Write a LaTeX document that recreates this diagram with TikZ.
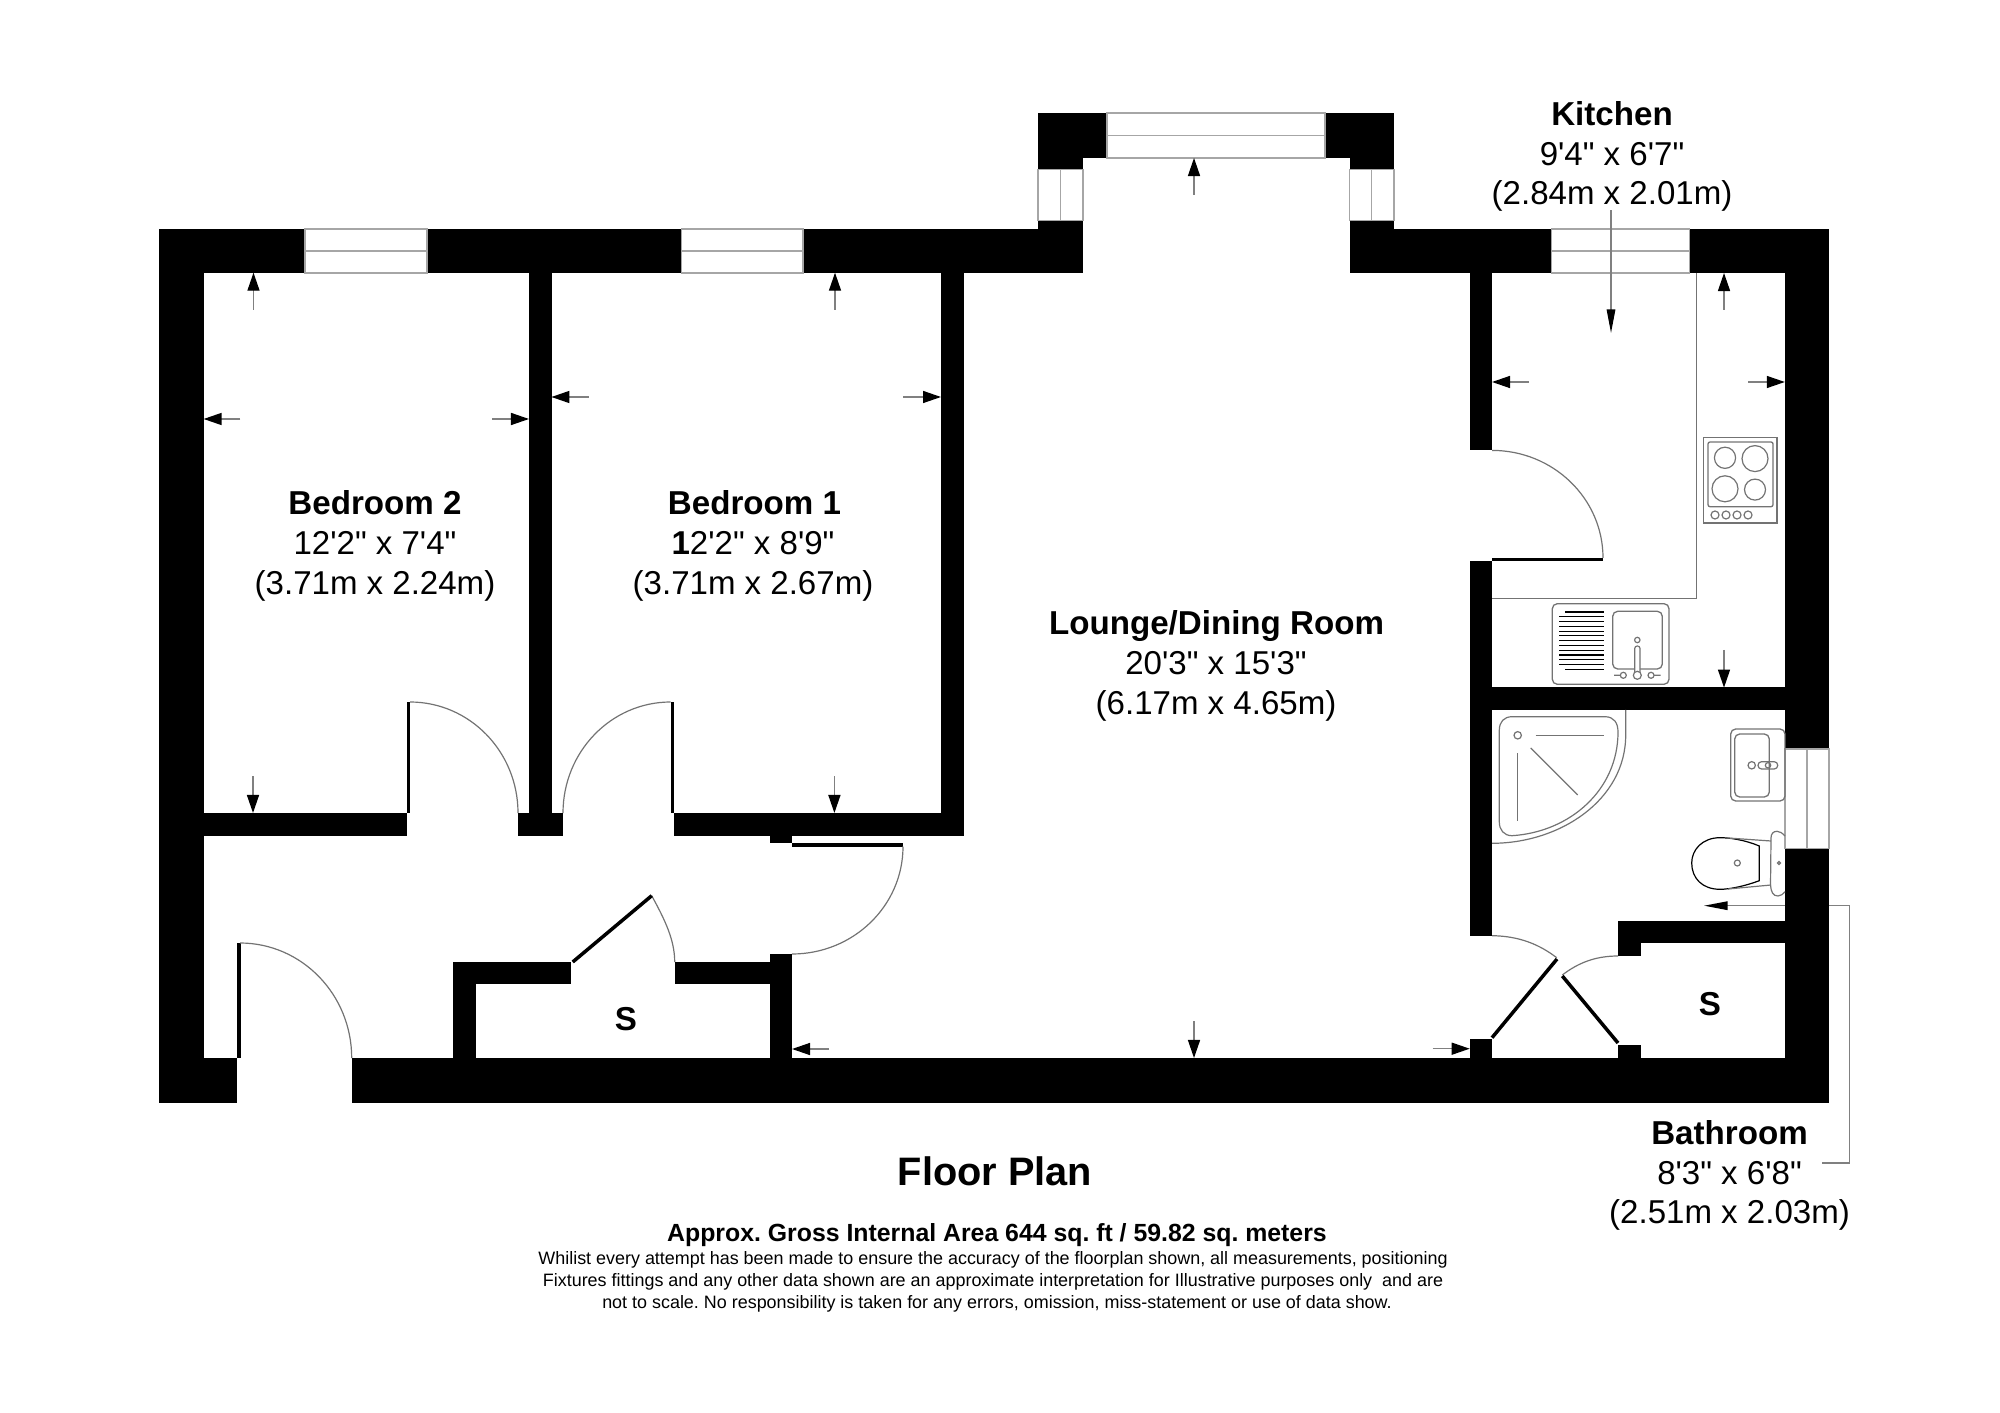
\documentclass[tikz,border=0pt]{standalone}
\usepackage{fontspec}
\usepackage{xcolor}
\usetikzlibrary{arrows.meta}
\newfontfamily\plansans{Liberation Sans}

\definecolor{fittingline}{gray}{0.45}

\tikzset{
    wall/.style={fill=black},
    leaf/.style={line width=0.035cm, black},
    swing/.style={draw=fittingline, line width=0.012cm},
    fitting/.style={draw=fittingline, line width=0.013cm, rounded corners=0.05cm},
    windowbox/.style={draw=gray!70, line width=0.012cm, fill=white},
    dimarrow/.style={draw=gray, line width=0.014cm, -{Triangle[length=0.18cm, width=0.12cm, black]}},
    longarrow/.style={draw=gray, line width=0.014cm, -{Triangle[length=0.235cm, width=0.085cm, black]}},
    roomtitle/.style={font=\plansans\bfseries\fontsize{9.42}{11}\selectfont, anchor=base, inner sep=0pt},
    roomsize/.style={font=\plansans\fontsize{9.4}{11}\selectfont, anchor=base, inner sep=0pt},
    smallprint/.style={font=\plansans\fontsize{5.1}{6}\selectfont, anchor=base, inner sep=0pt}
}

\begin{document}
\frenchspacing
\begin{tikzpicture}[x=0.01cm, y=-0.01cm]
    \useasboundingbox (0,0) rectangle (2000,1413);

    % walls
    \foreach \xa/\ya/\xb/\yb in {
        158.5/229/305/273, 427/229/681.5/273, 803/229/1083/273, 1038/220.6/1083/273,
        158.5/229/203.5/1102.5, 158.5/1058/236.5/1102.5, 352/1058/1829/1102.5,
        529/273/551.5/813, 941/273/963.5/836,
        203.5/813/407/836, 518/813/563/836, 673.7/813/963.5/836, 770/836/792/843,
        770/954/792/1058, 453/962/476/1058, 453/962/571/984, 675/962/770/984,
        1038/113/1107/158, 1038/158/1083/169.6, 1325/113/1394/158, 1349.6/158/1394/169.6,
        1349.6/220.6/1394/273, 1349.6/229/1551.6/273, 1689.7/229/1829/273,
        1784.8/229/1829/749, 1784.8/848.3/1829/1102.5,
        1469.7/273/1492/450.4, 1469.7/561.4/1492/935.7, 1469.7/687.3/1785/710.2,
        1618/920.7/1785/943.3, 1618/920.7/1640.7/956, 1618/1045/1640.7/1058, 1469.7/1039/1492/1058,
        407/702/410.4/813, 670.6/702/673.7/813, 236.5/943/240.5/1058, 792/843/903/846.5, 1492/558/1603/561.4}
        \fill[wall] (\xa,\ya) rectangle (\xb,\yb);

    % windows
    \foreach \xa/\xb/\ya/\yb in {305/427/229/273, 681.5/803/229/273, 1107/1325/113/158, 1551.6/1689.7/229/273} {
        \draw[windowbox] (\xa,\ya) rectangle (\xb,\yb);
        \draw[windowbox] (\xa,{(\ya+\yb)/2}) -- (\xb,{(\ya+\yb)/2});
    }
    \foreach \xa/\xb/\ya/\yb in {1038/1083/169.6/220.6, 1349.6/1394/169.6/220.6, 1785/1829/749/848.3} {
        \draw[windowbox] (\xa,\ya) rectangle (\xb,\yb);
        \draw[windowbox] ({(\xa+\xb)/2},\ya) -- ({(\xa+\xb)/2},\yb);
    }

    % doors
    \draw[swing] (410,702) arc[start angle=-90, end angle=0, x radius=108, y radius=111];
    \draw[swing] (670.6,702) arc[start angle=-90, end angle=-180, x radius=107.6, y radius=111];
    \draw[swing] (240,943) arc[start angle=-90, end angle=0, x radius=111.7, y radius=115];
    \draw[swing] (903,846.5) arc[start angle=0, end angle=90, x radius=111, y radius=107.5];
    \draw[swing] (1492,450.4) arc[start angle=-90, end angle=0, x radius=111, y radius=107.6];
    \draw[swing] (651.7,895.7) .. controls (665,920) and (674.7,940) .. (674.7,962);
    \draw[swing] (1492,935.7) .. controls (1520,936) and (1540,945) .. (1556.7,957.7);
    \draw[swing] (1618,956) .. controls (1595,956) and (1578,963) .. (1562.3,975);
    \draw[leaf] (572.7,962) -- (651.7,895.7);
    \draw[leaf] (1492,1037.7) -- (1557,959);
    \draw[leaf] (1562.3,976) -- (1618,1043);

    % kitchen units
    \draw[swing] (1696.4,273) -- (1696.4,598.6) -- (1492,598.6);
    \draw[fitting, rounded corners=0pt] (1703.7,437.3) rectangle (1777,523);
    \draw[fitting, rounded corners=0.02cm] (1708,442) rectangle (1773,506.7);
    \foreach \cx/\cy/\rx in {1725/457.8/10.6, 1755/458.6/13, 1725/488.8/13, 1755/489.6/10.5}
        \draw[swing] (\cx,\cy) circle [radius=\rx];
    \foreach \cx in {1715,1726,1737,1748}
        \draw[swing] (\cx,515) circle [radius=4];

    % sink
    \draw[fitting] (1552.3,603.7) rectangle (1669,684.3);
    \draw[fitting] (1612.7,611.3) rectangle (1662.3,669);
    \foreach \n in {0,...,12}
        \draw[black, line width=0.012cm] ({\n==0 || \n==12 ? 1565 : 1559.3},{612+4.78*\n}) -- (1603.7,{612+4.78*\n});
    \draw[swing, fill=white, rounded corners=0.025cm] (1634.7,646) rectangle (1640,678);
    \draw[swing] (1637.3,640) circle [radius=2.7];
    \draw[swing, fill=white] (1637.3,675.3) circle [radius=4];
    \draw[swing] (1623.3,675.3) circle [radius=3] (1620.3,675.3) -- (1614,675.3);
    \draw[swing] (1651,675.3) circle [radius=3] (1654,675.3) -- (1660.7,675.3);

    % shower
    \draw[swing] (1625.7,710) -- (1625.7,735) .. controls (1625.7,800) and (1560,843.3) .. (1492,843.3);
    \draw[swing] (1512,716.7) -- (1605,716.7) .. controls (1614,716.7) and (1618,723) .. (1618,732)
        .. controls (1618,790) and (1570,832) .. (1512,835.7)
        .. controls (1504,835.7) and (1499.3,830) .. (1499.3,822) -- (1499.3,730)
        .. controls (1499.3,722) and (1504,716.7) .. (1512,716.7) -- cycle;
    \draw[swing] (1517.7,735.3) circle [radius=3.7];
    \draw[swing] (1535.7,735.3) -- (1603.7,735.3);
    \draw[swing] (1517.7,753.3) -- (1517.7,821.3);
    \draw[swing] (1530.7,748) -- (1577.7,795);

    % basin
    \draw[fitting] (1730.7,729) rectangle (1785,801);
    \draw[fitting] (1734.7,734) rectangle (1769.3,797);
    \draw[swing] (1751.7,765.3) circle [radius=3.7];
    \draw[swing, rounded corners=0.035cm] (1758,761.7) rectangle (1777.7,769);
    \draw[swing] (1768,765.3) circle [radius=2.7];

    % toilet
    \draw[black, line width=0.012cm] (1759.3,846) .. controls (1745,840) and (1730,837.7) .. (1720,837.7)
        .. controls (1702,837.7) and (1691.7,850) .. (1691.7,863)
        .. controls (1691.7,878) and (1702,889.3) .. (1720,889.3)
        .. controls (1730,889.3) and (1745,886) .. (1759.3,880.7) -- cycle;
    \draw[swing] (1728,838) -- (1771,841) (1728,889) -- (1771,885);
    \draw[swing] (1785,836) .. controls (1782,833) and (1780,831.3) .. (1777,831.3)
        .. controls (1773,831.3) and (1771,834) .. (1771,838) -- (1770.5,885)
        .. controls (1771,892) and (1773,896) .. (1778,896) .. controls (1781,896) and (1783,894) .. (1785,891.7);
    \draw[swing] (1737.3,863) circle [radius=3];
    \draw[swing] (1779,863) circle [radius=1.5];

    % dimension arrows
    \foreach \xa/\ya/\xb/\yb in {
        253.5/310/253.5/272.7, 240.4/419/203.6/419, 492/419/529/419, 253/776/253/813,
        835/310/835/272.7, 588.7/397/551.4/397, 903/397/941/397, 834.4/776/834.4/813,
        1194/195/1194/158, 829/1049/792/1049, 1194/1021/1194/1058, 1432.7/1048.7/1469.7/1048.7,
        1724/310/1724/273, 1529/382/1492/382, 1748/382/1784.8/382, 1724/650/1724/687.6}
        \draw[dimarrow] (\xa,\ya) -- (\xb,\yb);
    \draw[longarrow] (1611,210.4) -- (1611,333);
    \draw[longarrow] (1785,905.7) -- (1704,905.7);
    \draw[draw=gray, line width=0.014cm] (1829,905.7) -- (1849.7,905.7) -- (1849.7,1163) -- (1821.7,1163);

    % labels
    \node[roomtitle] (kitchen) at (1612,126) {Kitchen};
    \node[roomsize] (kitchenft) at (1612,165.5) {9'4" x 6'7"};
    \node[roomsize] (kitchenm) at (1612,205) {(2.84m x 2.01m)};
    \node[roomtitle] (bedtwo) at (375,514.5) {Bedroom 2};
    \node[roomsize] (bedtwoft) at (375,554.5) {12'2" x 7'4"};
    \node[roomsize] (bedtwom) at (375,594.5) {(3.71m x 2.24m)};
    \node[roomtitle] (bedone) at (754.5,514.5) {Bedroom 1};
    \node[roomsize] (bedoneft) at (753,554.5) {{\bfseries 1}2'2" x 8'9"};
    \node[roomsize] (bedonem) at (753,594.5) {(3.71m x 2.67m)};
    \node[roomtitle] (lounge) at (1216.5,635) {Lounge/Dining Room};
    \node[roomsize] (loungeft) at (1216,675) {20'3" x 15'3"};
    \node[roomsize] (loungem) at (1216,715) {(6.17m x 4.65m)};
    \node[roomtitle] (bathroom) at (1729.5,1144.5) {Bathroom};
    \node[roomsize] (bathroomft) at (1729.5,1184) {8'3" x 6'8"};
    \node[roomsize] (bathroomm) at (1729.5,1223.5) {(2.51m x 2.03m)};
    \node[roomtitle] (storeone) at (626,1030) {S};
    \node[roomtitle] (storetwo) at (1710,1015) {S};
    \node[roomtitle, font=\plansans\bfseries\fontsize{11.3}{13}\selectfont] (floorplan) at (995,1185.5) {Floor Plan};
    \node[roomtitle, font=\plansans\bfseries\fontsize{7.06}{8}\selectfont] (area) at (997,1241.5) {Approx. Gross Internal Area 644 sq. ft / 59.82 sq. meters};
    \node[smallprint] (noteone) at (993,1264.5) {Whilist every attempt has been made to ensure the accuracy of the floorplan shown, all measurements, positioning};
    \node[smallprint] (notetwo) at (993,1286.5) {Fixtures fittings and any other data shown are an approximate interpretation for Illustrative purposes only\ \ and are};
    \node[smallprint] (notethree) at (997,1308.5) {not to scale. No responsibility is taken for any errors, omission, miss-statement or use of data show.};
\end{tikzpicture}
\end{document}
